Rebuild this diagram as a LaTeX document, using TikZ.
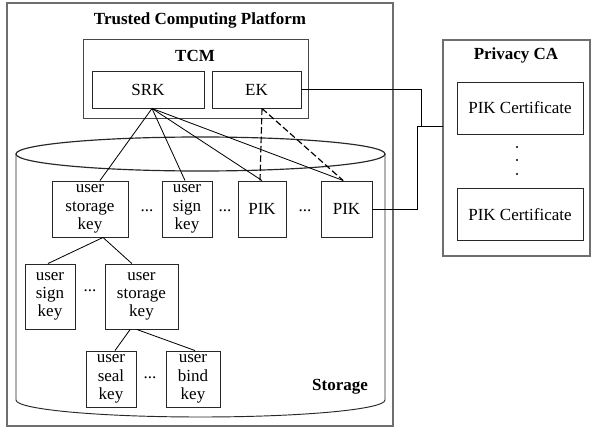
\documentclass[tikz,border=0pt]{standalone}
\usepackage{fontspec}
\setmainfont{Liberation Serif}
\usepackage{tikz}
\usetikzlibrary{
    positioning,
    calc
}
\definecolor{Frame}{RGB}{110, 110, 110}
\definecolor{Ink}{RGB}{40, 40, 40}
\tikzset{
    keybox/.style={
        rectangle, draw=Ink, line width=0.8pt, fill=white, text=black,
        align=center, inner sep=0pt, minimum height=1.68cm,
        font=\fontsize{14.5}{15.6}\selectfont
    },
    framebox/.style={draw=Frame, line width=1.0pt},
    framelabel/.style={font=\fontsize{14.5}{15.6}\selectfont\bfseries},
    keylink/.style={line width=0.7pt, black},
    eklink/.style={line width=1.0pt, black, dash pattern=on 5.5pt off 2.5pt},
    gap/.style={font=\fontsize{14.5}{15.6}\selectfont, inner sep=0pt},
}

\begin{document}
\begin{tikzpicture}[x=0.03cm, y=-0.03cm]

    \useasboundingbox (0,0) rectangle (591,429);

    % platform and tcm frames
    \draw [framebox] (7,3) rectangle (393,426);
    \node [framelabel] (tcptitle) at (200,20) {Trusted Computing Platform};
    \draw [framebox, draw=Ink!85, line width=0.8pt] (83,39) rectangle (308,118);
    \node [framelabel] (tcmtitle) at (195,56) {TCM};

    \node [keybox, minimum width=3.36cm, minimum height=1.11cm] (srk) at (148,89.5) {SRK};
    \node [keybox, minimum width=2.67cm, minimum height=1.11cm] (ek) at (256.5,89.5) {EK};

    % storage cylinder
    \draw [line width=1.0pt, Ink] (200.5,154) ellipse [x radius=184.5, y radius=17];
    \draw [line width=0.8pt, Ink] (16,154) -- (16,400)
        arc [start angle=180, end angle=0, x radius=184.5, y radius=17] -- (385,154);
    \node [framelabel] (storage) at (340,387) {Storage};

    % first row
    \node [keybox, minimum width=2.28cm] (usk1) at (90,209) {user\\storage\\key};
    \node [gap] (dots1) at (147,211) {...};
    \node [keybox, minimum width=1.5cm] (usign1) at (187,209) {user\\sign\\key};
    \node [gap] (dots2) at (225,211) {...};
    \node [keybox, minimum width=1.44cm] (pik1) at (262,209) {PIK};
    \node [gap] (dots3) at (305,211) {...};
    \node [keybox, minimum width=1.53cm] (pik2) at (346.5,209) {PIK};

    % second row
    \node [keybox, minimum width=1.5cm, minimum height=1.95cm] (usign2) at (50,296.5) {user\\sign\\key};
    \node [gap] (dots4) at (90,291) {...};
    \node [keybox, minimum width=2.19cm, minimum height=1.95cm] (usk2) at (141.5,296.5) {user\\storage\\key};

    % third row
    \node [keybox, minimum width=1.5cm] (useal) at (111,379) {user\\seal\\key};
    \node [gap] (dots5) at (150,378) {...};
    \node [keybox, minimum width=1.62cm] (ubind) at (193,379) {user\\bind\\key};

    % privacy ca
    \draw [framebox] (443,40) rectangle (590,256);
    \node [framelabel] (pcatitle) at (516,55) {Privacy CA};
    \node [keybox, minimum width=3.78cm, minimum height=1.56cm] (cert1) at (520,108) {PIK Certificate};
    \node [keybox, minimum width=3.78cm, minimum height=1.56cm] (cert2) at (520,214.5) {PIK Certificate};
    \foreach \dy in {147,160,174}
        \fill (517,\dy) circle [radius=1.2];
    \coordinate (pcain) at (443,126);

    % key hierarchy
    \draw [keylink] ([xshift=0.12cm]srk.south) -- ([xshift=0.3cm]usk1.north);
    \draw [keylink] ([xshift=0.12cm]srk.south) -- ([xshift=-0.06cm]usign1.north);
    \draw [keylink] ([xshift=0.12cm]srk.south) -- (pik1.north);
    \draw [keylink] ([xshift=0.12cm]srk.south) -- ([xshift=-0.1cm]pik2.north);
    \draw [eklink] (pik1.north |- ek.south) -- ([xshift=-0.06cm]pik1.north);
    \draw [eklink] (pik1.north |- ek.south) -- ([xshift=-0.1cm]pik2.north);
    \draw [keylink] ([xshift=0.39cm]usk1.south) -- ([xshift=-0.06cm]usign2.north);
    \draw [keylink] ([xshift=0.39cm]usk1.south) -- ([xshift=-0.29cm]usk2.north);
    \draw [keylink] ([xshift=-0.34cm]usk2.south) -- ([xshift=0.12cm]useal.north);
    \draw [keylink] ([xshift=-0.14cm]usk2.south) -- ([xshift=0.06cm]ubind.north);

    % links to the ca
    \draw [keylink] (ek.east) -| ([xshift=-0.66cm]pcain) -- (pcain);
    \draw [keylink] (pik2.east) -| ([xshift=-0.78cm]pcain) -- (pcain);

\end{tikzpicture}
\end{document}
